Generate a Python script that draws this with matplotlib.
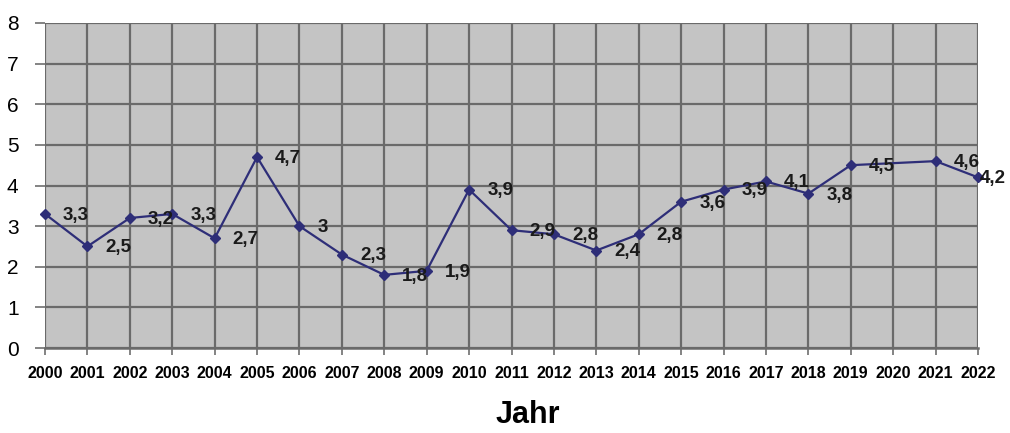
#!/usr/bin/env python3

import numpy as np
import matplotlib
matplotlib.use('Agg')
import matplotlib.pyplot as plt

years = list(range(2000, 2023))
# 2020 has no point in the chart, the line just runs through
values = [3.3, 2.5, 3.2, 3.3, 2.7, 4.7, 3.0, 2.3, 1.8, 1.9, 3.9, 2.9,
          2.8, 2.4, 2.8, 3.6, 3.9, 4.1, 3.8, 4.5, np.nan, 4.6, 4.2]
labels = ['3,3', '2,5', '3,2', '3,3', '2,7', '4,7', '3', '2,3', '1,8', '1,9', '3,9', '2,9',
          '2,8', '2,4', '2,8', '3,6', '3,9', '4,1', '3,8', '4,5', '', '4,6', '4,2']
y_ticks = [0, 1, 2, 3, 4, 5, 6, 7, 8]

plt.rcParams['font.family'] = ['Liberation Sans', 'DejaVu Sans']

fig = plt.figure(figsize=(10.1, 4.33), dpi=100)
ax = fig.add_axes([45/1010, 85/433, 933/1010, 325/433])

ax.set_facecolor('#c4c4c4')
xs = [x for x, v in zip(years, values) if not np.isnan(v)]
vs = [v for v in values if not np.isnan(v)]
ax.plot(xs, vs, color='#2e2e78', linewidth=1.6, marker='D', markersize=5.5,
        zorder=3, clip_on=False)

for i, (x, v, lab) in enumerate(zip(years, values, labels)):
    if np.isnan(v):
        continue
    # last label sits almost on its marker, at the chart's edge
    dx = 1.5 if i == len(years) - 1 else 13
    ax.annotate(lab, (x, v), xytext=(dx, -1), textcoords='offset points',
                ha='left', va='center', fontsize=13.5, fontweight='bold',
                color='#1a1a1a', zorder=4, annotation_clip=False)

ax.set_xlim(2000, 2022)
ax.set_ylim(0, 8)
ax.set_xticks(years)
ax.set_xticklabels([str(y) for y in years], fontsize=11.5, fontweight='bold')
ax.set_yticks(y_ticks)
ax.set_yticklabels([str(t) for t in y_ticks], fontsize=15)
ax.tick_params(axis='x', length=5, width=1.2, color='#6e6e6e', pad=8)
ax.tick_params(axis='y', length=7, width=1.2, color='#6e6e6e', pad=12)

ax.grid(color='#6a6a6a', linewidth=1.6, zorder=1)
ax.set_axisbelow(True)
for s in ax.spines.values():
    s.set_visible(False)
ax.spines['bottom'].set_visible(True)
ax.spines['bottom'].set_color('#6a6a6a')
ax.spines['bottom'].set_linewidth(1.8)

fig.text(528/1010, 1 - 415/433, 'Jahr', ha='center', va='center',
         fontsize=22, fontweight='bold')

fig.savefig('out.png', dpi=100)
